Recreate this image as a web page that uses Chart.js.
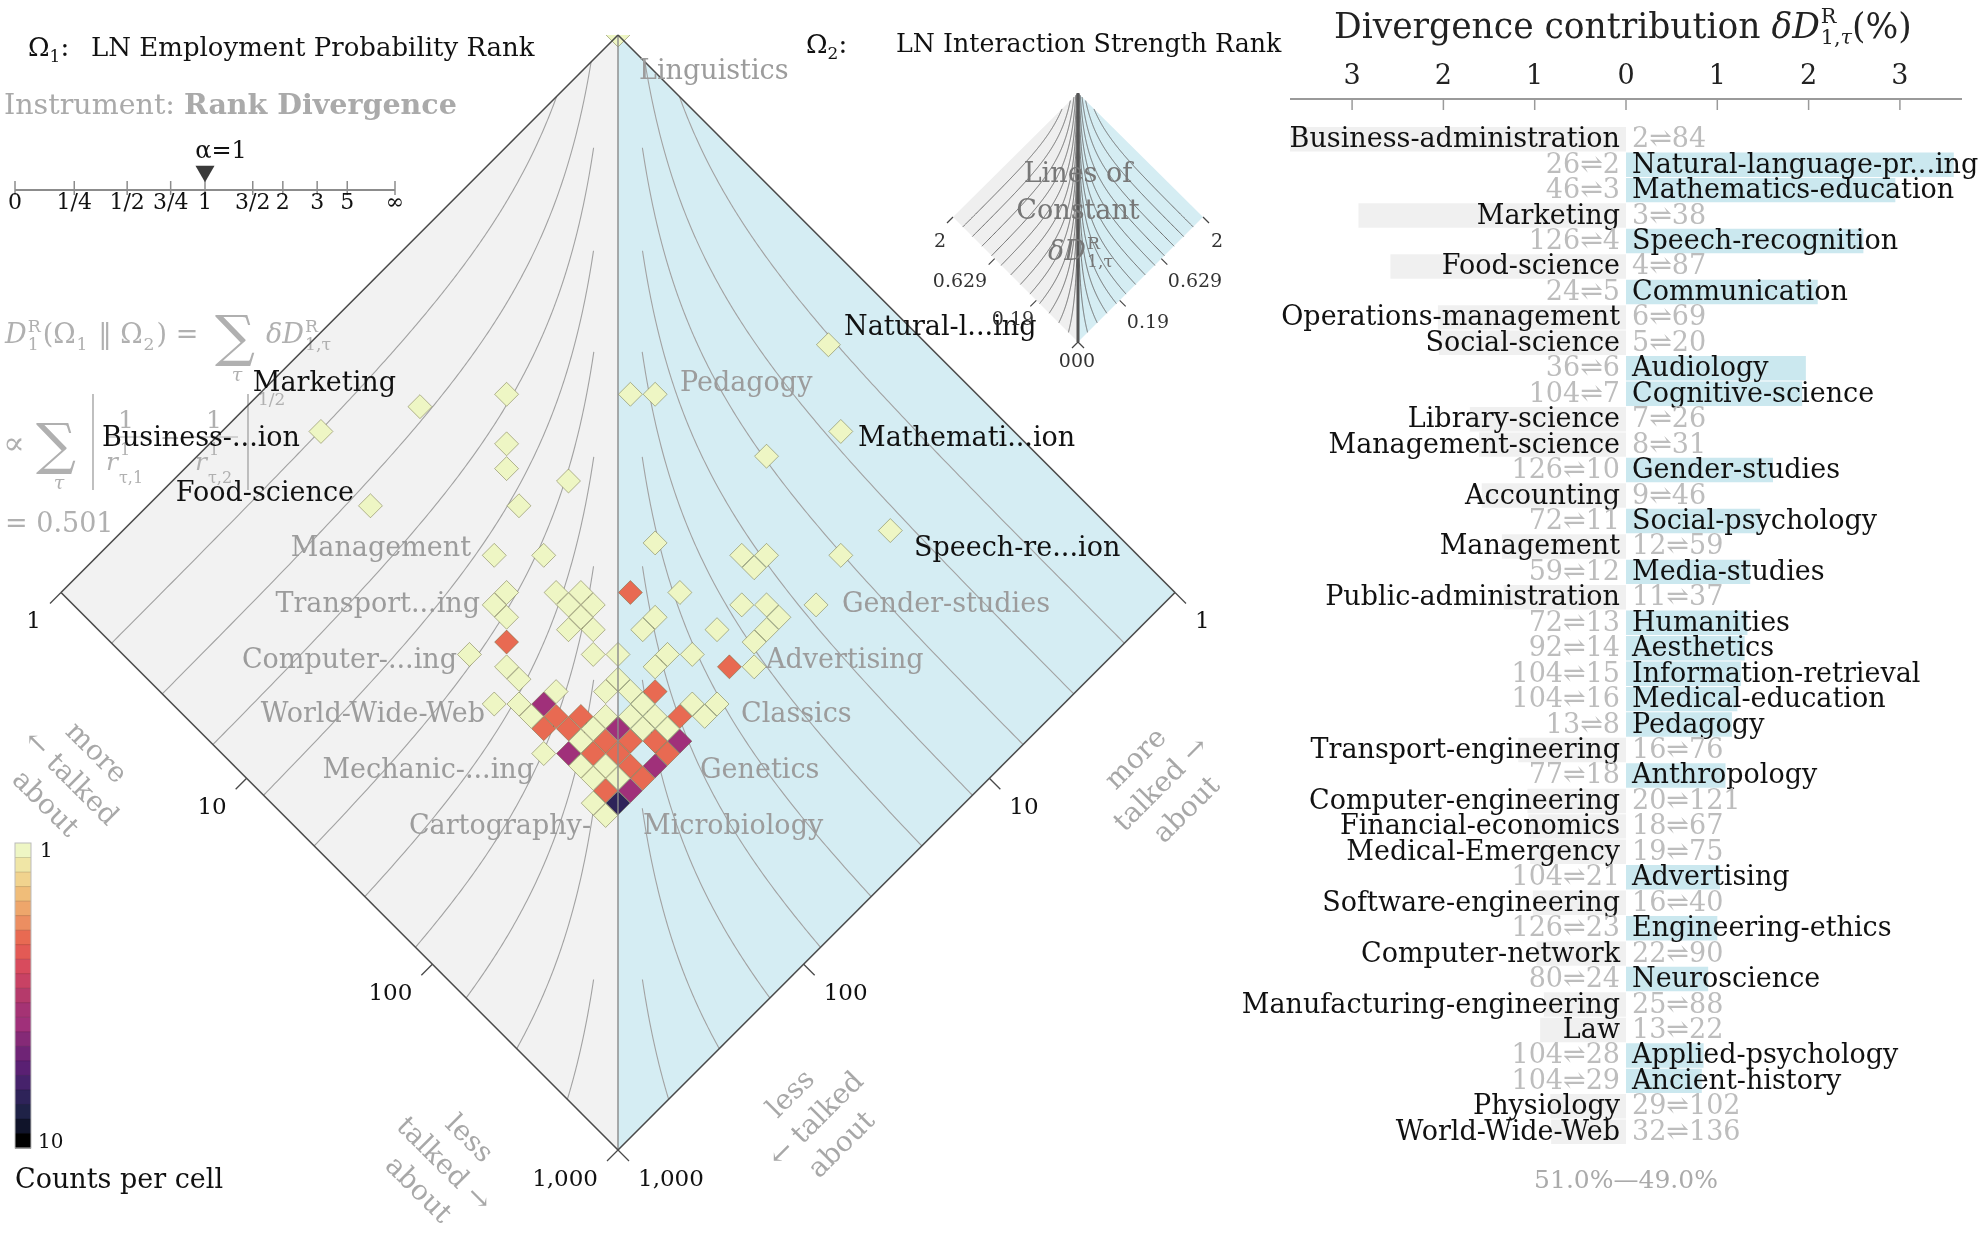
<!DOCTYPE html>
<html><head><meta charset="utf-8">
<script src="https://cdn.jsdelivr.net/npm/chart.js@4.4.1/dist/chart.umd.min.js"></script>
<style>
html,body{margin:0;padding:0;background:#fff;}
body{width:1985px;height:1236px;position:relative;overflow:hidden;font-family:"DejaVu Serif","DejaVu Sans",serif;}
canvas{position:absolute;}
.t{position:absolute;white-space:nowrap;line-height:1;}
.ss{display:inline-block;vertical-align:-0.3em;font-size:0.6em;line-height:1.0;text-align:left;margin-left:1px;}
.ss span{display:block;}
</style></head><body>
<canvas id="main" width="1985" height="1236" style="left:0;top:0;width:1985px;height:1236px;z-index:1"></canvas>
<canvas id="alpha" width="420" height="80" style="left:0;top:140px;width:420px;height:80px;z-index:2"></canvas>
<canvas id="bars" width="835" height="1236" style="left:1150px;top:0;width:835px;height:1236px;z-index:3"></canvas>

<div class="t" style="left:28px;top:34px;font-size:26px;color:#111;z-index:5">Ω<span style="font-size:17px;vertical-align:-6px">1</span>:</div>
<div class="t" style="left:91px;top:34px;font-size:26px;color:#111;z-index:5">LN Employment Probability Rank</div>
<div class="t" style="left:806px;top:31px;font-size:26px;color:#111;z-index:5">Ω<span style="font-size:17px;vertical-align:-6px">2</span>:</div>
<div class="t" style="left:896px;top:31px;font-size:25.3px;color:#111;z-index:5">LN Interaction Strength Rank</div>
<div class="t" style="left:4px;top:90px;font-size:28.5px;color:#aaa;z-index:5">Instrument: <b>Rank Divergence</b></div>
<div class="t" style="left:1334px;top:6px;font-size:34.5px;color:#222;z-index:5">Divergence contribution <i>δD</i><span class="ss"><span>R</span><span>1,<i>τ</i></span></span>(%)</div>

<script>
const FONT = '"DejaVu Serif","DejaVu Sans",serif';

// ---------------- DATA ----------------
// Right panel: top divergence contributors
const barLabels = ['Business-administration','Natural-language-pr...ing','Mathematics-education','Marketing','Speech-recognition','Food-science','Communication','Operations-management','Social-science','Audiology','Cognitive-science','Library-science','Management-science','Gender-studies','Accounting','Social-psychology','Management','Media-studies','Public-administration','Humanities','Aesthetics','Information-retrieval','Medical-education','Pedagogy','Transport-engineering','Anthropology','Computer-engineering','Financial-economics','Medical-Emergency','Advertising','Software-engineering','Engineering-ethics','Computer-network','Neuroscience','Manufacturing-engineering','Law','Applied-psychology','Ancient-history','Physiology','World-Wide-Web'];
const rankOmega1 = [2,26,46,3,126,4,24,6,5,36,104,7,8,126,9,72,12,59,11,72,92,104,104,13,16,77,20,18,19,104,16,126,22,80,25,13,104,104,29,32];
const rankOmega2 = [84,2,3,38,4,87,5,69,20,6,7,26,31,10,46,11,59,12,37,13,14,15,16,8,76,18,121,67,75,21,40,23,90,24,88,22,28,29,102,136];
// signed contribution (%): negative = Omega1 side (left), positive = Omega2 side (right)
const contribution = [-3.70,3.59,2.95,-2.93,2.60,-2.58,2.10,-2.06,-2.05,1.97,1.93,-1.71,-1.61,1.61,-1.58,1.47,-1.36,1.36,-1.34,1.33,1.30,1.26,1.22,1.16,-1.18,1.09,-1.08,-1.07,-1.05,1.03,-1.02,1.00,-0.98,0.90,-0.90,-0.94,0.85,0.83,-0.83,-0.82];
const barTickValues = [-3,-2,-1,0,1,2,3];
const balanceText = '51.0%—49.0%';

// Heatmap cells: log-rank bin index in Omega1, in Omega2, and count per cell
const cellBinOmega1 = [0,21,7,10,15,16,4,25,12,23,13,16,9,15,31,22,16,18,26,27,30,27,23,18,20,21,25,28,29,31,18,21,22,19,25,25,28,30,30,30,22,23,22,20,19,24,25,27,27,28,30,31,21,22,26,26,27,28,28,24,24,23,22,30,31,31,24,25,26,27,28,29,30,25,26,27,28,29,30,27,28,29,30,31,26,27,28,29,31,28,29,30,31,29,30,31,30,31,31,30,31];
const cellBinOmega2 = [0,4,23,19,14,13,28,7,21,11,22,20,29,23,9,19,26,24,16,15,12,16,22,27,25,24,20,18,17,15,28,25,24,28,22,23,20,17,18,19,26,25,25,29,31,26,25,23,24,22,21,20,30,30,26,27,26,26,25,29,30,31,32,24,23,24,31,30,29,28,27,26,25,31,30,29,28,27,26,30,29,28,27,26,32,31,30,29,27,31,30,29,28,31,30,29,31,30,31,32,32];
const cellCount     = [1,1,1,1,1,1,1,1,1,1,1,1,1,1,1,1,1,1,1,1,1,1,2,1,1,1,1,1,1,1,1,1,1,1,1,1,1,1,1,1,1,1,1,2,1,1,1,1,1,1,2,1,1,1,1,1,1,1,2,1,4,1,1,1,1,1,1,2,2,1,1,1,2,2,2,1,4,1,1,1,2,2,2,4,1,4,2,2,2,1,1,2,4,1,1,2,2,4,7,1,1];

const rankTicks = [1,10,100,1000];
const rankTickLabels = ['1','10','100','1,000'];
const alphaTickValues = [0,0.25,0.5,0.75,1,1.5,2,3,5,Infinity];
const alphaTickLabels = ['0','1/4','1/2','3/4','1','3/2','2','3','5','∞'];
const alphaSelected = 1;
const insetTickLabels = ['2','0.629','0.19','0'];

// ---------------- GEOMETRY / STYLE CONSTANTS ----------------
const BIN = 1/15;     // width of a heat-map cell in decades of rank
const LOGMAX = 3;     // log10(1000): diamond spans ranks 1..1000
const countStops = ['#eef6c4','#f0e6a6','#f1d38e','#f0bd79','#eea66b','#ec8e61','#e86a52','#e35a55','#d84b5d','#c84264','#b53a6b','#a53374','#a0307a','#852a77','#6f2476','#5a2073','#46226b','#2e2359','#1f2247','#10142a','#000000'];
function cmap(c){ const t=Math.min(1,Math.max(0,Math.log10(c))); return countStops[Math.round(t*(countStops.length-1))]; }

function poly(ctx, pts, fill){ ctx.beginPath(); ctx.moveTo(pts[0][0],pts[0][1]); for(let i=1;i<pts.length;i++) ctx.lineTo(pts[i][0],pts[i][1]); ctx.closePath(); ctx.fillStyle=fill; ctx.fill(); }
function seg(ctx,a,b){ ctx.beginPath(); ctx.moveTo(a[0],a[1]); ctx.lineTo(b[0],b[1]); ctx.stroke(); }

// contour curves of constant |1/r1 - 1/r2| (left half, value space x=u-v, y=u+v)
function contourPaths(nDiv, minGap){
  const paths=[];
  for(let k=1;k<nDiv;k++){
    const e=Math.pow(10,LOGMAX*k/nDiv), c=1/e-Math.pow(10,-LOGMAX), pts=[], N=260;
    for(let s=0;s<=N;s++){
      const f=1-Math.pow(1-s/N,2);
      const lr1=Math.log10(e)*f;
      const inv=1/Math.pow(10,lr1)-c;
      let lr2 = inv>0 ? -Math.log10(inv) : LOGMAX;
      if(lr2>LOGMAX) lr2=LOGMAX;
      if(lr2-lr1 < minGap) continue;
      pts.push([lr1-lr2, lr1+lr2]);
    }
    if(pts.length>1) paths.push(pts);
  }
  return paths;
}

function rich(ctx, x, y, parts, size){
  let cx=x;
  for(const p of parts){
    if(typeof p==='string'){ ctx.font=`${size}px ${FONT}`; ctx.fillText(p,cx,y); cx+=ctx.measureText(p).width; continue; }
    if(p.sup!==undefined||p.sub!==undefined){
      const ss=size*0.64; let w=0;
      if(p.sup){ ctx.font=`${ss}px ${FONT}`; ctx.fillText(p.sup,cx+1,y-size*0.42); w=Math.max(w,ctx.measureText(p.sup).width); }
      if(p.sub){ ctx.font=`${ss}px ${FONT}`; ctx.fillText(p.sub,cx+1,y+size*0.26); w=Math.max(w,ctx.measureText(p.sub).width); }
      cx+=w+3; continue;
    }
    const sz=size*(p.s||1);
    ctx.font=`${p.it?'italic ':''}${sz}px ${FONT}`;
    ctx.fillText(p.t,cx,y+(p.dy||0)); cx+=ctx.measureText(p.t).width;
  }
  return cx;
}

function drawFormula(ctx){
  ctx.save(); ctx.fillStyle='#b0b0b0'; ctx.strokeStyle='#b0b0b0'; ctx.textBaseline='alphabetic'; ctx.textAlign='left';
  rich(ctx,5,343,[{t:'D',it:1},{sup:'R',sub:'1'},'(Ω',{sub:'1'},' ‖ Ω',{sub:'2'},') ='],27);
  ctx.font=`56px ${FONT}`; ctx.fillText('∑',215,355);
  ctx.font=`italic 19px ${FONT}`; ctx.textAlign='center'; ctx.fillText('τ',237,381); ctx.textAlign='left';
  rich(ctx,266,343,[{t:'δD',it:1},{sup:'R',sub:'1,τ'}],27);
  // line 2
  ctx.font=`32px ${FONT}`; ctx.fillText('∝',3,454);
  ctx.font=`56px ${FONT}`; ctx.fillText('∑',36,463);
  ctx.font=`italic 19px ${FONT}`; ctx.textAlign='center'; ctx.fillText('τ',59,489); ctx.textAlign='left';
  ctx.lineWidth=1.6; seg(ctx,[93,394],[93,490]); seg(ctx,[248,394],[248,490]);
  ctx.lineWidth=1.2; seg(ctx,[106,437],[150,437]); seg(ctx,[193,437],[238,437]);
  ctx.font=`25px ${FONT}`; ctx.fillText('1',118,428); ctx.fillText('1',206,428);
  ctx.fillText('−',160,446);
  ctx.font=`italic 25px ${FONT}`; ctx.fillText('r',106,470); ctx.fillText('r',195,470);
  ctx.font=`16px ${FONT}`; ctx.fillText('1',120,455); ctx.fillText('1',209,455);
  ctx.fillText('τ,1',119,483); ctx.fillText('τ,2',208,483);
  ctx.font=`17px ${FONT}`; ctx.fillText('1/2',258,405);
  // line 3
  ctx.font=`27px ${FONT}`; ctx.fillText('= 0.501',5,532);
  ctx.restore();
}

function rotText(ctx, lines, cx, cy, deg, size, lh, color){
  ctx.save(); ctx.translate(cx,cy); ctx.rotate(deg*Math.PI/180);
  ctx.font=`${size}px ${FONT}`; ctx.fillStyle=color; ctx.textAlign='center'; ctx.textBaseline='middle';
  lines.forEach((l,i)=>ctx.fillText(l,0,(i-(lines.length-1)/2)*lh));
  ctx.restore();
}

function drawInset(ctx){
  const T=[1078,93], L=[953,217], R=[1203,217], B=[1078,342];
  const M=(xv,yv)=>[1078+xv*125/LOGMAX, 93+yv*124.5/LOGMAX];
  ctx.save();
  poly(ctx,[T,L,B],'#efefef'); poly(ctx,[T,R,B],'#d5edf3');
  ctx.strokeStyle='#6a6a6a'; ctx.lineWidth=1;
  for(const pts of contourPaths(13,0)){
    for(const sgn of [1,-1]){
      ctx.beginPath(); pts.forEach((p,i)=>{const q=M(sgn*p[0],p[1]); i?ctx.lineTo(q[0],q[1]):ctx.moveTo(q[0],q[1]);}); ctx.stroke();
    }
  }
  ctx.strokeStyle='#555'; ctx.lineWidth=3; seg(ctx,T,B);
  ctx.strokeStyle='#444'; ctx.lineWidth=1.2;
  for(let i=0;i<4;i++){
    const f=i/3;
    const pl=[L[0]+(B[0]-L[0])*f, L[1]+(B[1]-L[1])*f], pr=[R[0]+(B[0]-R[0])*f, R[1]+(B[1]-R[1])*f];
    seg(ctx,pl,[pl[0]-6,pl[1]+6]); seg(ctx,pr,[pr[0]+6,pr[1]+6]);
  }
  ctx.fillStyle='#333'; ctx.font=`19px ${FONT}`; ctx.textAlign='center'; ctx.textBaseline='middle';
  const leftPos=[[940,242],[960,282],[1013,320]], rightPos=[[1217,242],[1195,282],[1148,323]];
  for(let i=0;i<3;i++){ ctx.fillText(insetTickLabels[i],leftPos[i][0],leftPos[i][1]); ctx.fillText(insetTickLabels[i],rightPos[i][0],rightPos[i][1]); }
  ctx.fillText(insetTickLabels[3]+insetTickLabels[3]+insetTickLabels[3],1077,362);
  ctx.fillStyle='#777'; ctx.font=`27px ${FONT}`;
  ctx.fillText('Lines of',1078,175); ctx.fillText('Constant',1078,212);
  ctx.textAlign='left'; ctx.textBaseline='alphabetic';
  rich(ctx,1048,260,[{t:'δD',it:1},{sup:'R',sub:'1,τ'}],27);
  ctx.restore();
}

function drawColorbar(ctx){
  const x=15,w=16,top=843,bot=1148,n=countStops.length,h=(bot-top)/n;
  ctx.save();
  countStops.forEach((c,i)=>{ ctx.fillStyle=c; ctx.fillRect(x,top+i*h,w,h+0.5); });
  ctx.strokeStyle='rgba(0,0,0,0.15)'; ctx.lineWidth=1;
  for(let i=1;i<n;i++) seg(ctx,[x,top+i*h],[x+w,top+i*h]);
  ctx.strokeStyle='#bbb'; ctx.strokeRect(x,top,w,bot-top);
  ctx.fillStyle='#111'; ctx.font=`20px ${FONT}`; ctx.textBaseline='middle'; ctx.textAlign='left';
  ctx.fillText('1',40,852); ctx.fillText('10',38,1143);
  ctx.font=`27px ${FONT}`; ctx.fillText('Counts per cell',15,1181);
  ctx.restore();
}

const diamondPlugin = {
  id:'diamond',
  beforeDatasetsDraw(chart){
    const {ctx, scales:{x:X,y:Y}} = chart;
    const P=(a,b)=>[X.getPixelForValue(a),Y.getPixelForValue(b)];
    const T=P(0,0), L=P(-LOGMAX,LOGMAX), R=P(LOGMAX,LOGMAX), B=P(0,2*LOGMAX);
    ctx.save();
    poly(ctx,[T,L,B],'#f2f2f2'); poly(ctx,[T,R,B],'#d5edf3');
    ctx.strokeStyle='#a2a2a2'; ctx.lineWidth=1.1;
    for(const pts of contourPaths(11,0.13)){
      for(const sgn of [1,-1]){
        ctx.beginPath(); pts.forEach((p,i)=>{const q=P(sgn*p[0],p[1]); i?ctx.lineTo(q[0],q[1]):ctx.moveTo(q[0],q[1]);}); ctx.stroke();
      }
    }
    ctx.restore();
    drawFormula(ctx);
  },
  afterDatasetsDraw(chart){
    const {ctx, scales:{x:X,y:Y}} = chart;
    const P=(a,b)=>[X.getPixelForValue(a),Y.getPixelForValue(b)];
    const T=P(0,0), L=P(-LOGMAX,LOGMAX), R=P(LOGMAX,LOGMAX), B=P(0,2*LOGMAX);
    ctx.save();
    ctx.strokeStyle='#8a8a8a'; ctx.lineWidth=1.4; seg(ctx,T,B);
    ctx.strokeStyle='#4a4a4a'; ctx.lineWidth=1.6;
    seg(ctx,T,L); seg(ctx,L,B); seg(ctx,B,R); seg(ctx,R,T);
    ctx.font=`23px ${FONT}`; ctx.fillStyle='#111'; ctx.textBaseline='middle';
    rankTicks.forEach((t,i)=>{
      const u=Math.log10(t);
      const pl=P(u-LOGMAX,u+LOGMAX), pr=P(LOGMAX-u,LOGMAX+u);
      ctx.lineWidth=1.3;
      seg(ctx,pl,[pl[0]-11,pl[1]+11]); seg(ctx,pr,[pr[0]+11,pr[1]+11]);
      ctx.textAlign='right'; ctx.fillText(rankTickLabels[i],pl[0]-20,pl[1]+30);
      ctx.textAlign='left'; ctx.fillText(rankTickLabels[i],pr[0]+20,pr[1]+30);
    });
    // word labels
    ctx.font=`27px ${FONT}`; ctx.textBaseline='middle';
    const grayL=[['Management',471,549],['Transport...ing',480,605],['Computer-...ing',457,661],['World-Wide-Web',485,715],['Mechanic-...ing',534,771],['Cartography-',591,827]];
    const grayR=[['Linguistics',639,72],['Pedagogy',680,384],['Gender-studies',842,605],['Advertising',766,661],['Classics',741,715],['Genetics',700,771],['Microbiology',643,827]];
    const blackL=[['Marketing',396,384],['Business-...ion',300,439],['Food-science',354,494]];
    const blackR=[['Natural-l...ing',844,328],['Mathemati...ion',858,439],['Speech-re...ion',914,549]];
    ctx.fillStyle='#9c9c9c';
    ctx.textAlign='right'; grayL.forEach(l=>ctx.fillText(l[0],l[1],l[2]));
    ctx.textAlign='left'; grayR.forEach(l=>ctx.fillText(l[0],l[1],l[2]));
    ctx.fillStyle='#111';
    ctx.textAlign='right'; blackL.forEach(l=>ctx.fillText(l[0],l[1],l[2]));
    ctx.textAlign='left'; blackR.forEach(l=>ctx.fillText(l[0],l[1],l[2]));
    ctx.restore();
    const g='#a8a8a8';
    rotText(ctx,['more','← talked','about'],70,779,45,28,36,g);
    rotText(ctx,['more','talked →','about'],1162,785,-45,28,36,g);
    rotText(ctx,['less','talked →','about'],443,1165,45,28,36,g);
    rotText(ctx,['less','← talked','about'],817,1120,-45,28,36,g);
    drawInset(ctx);
    drawColorbar(ctx);
  }
};

const cellData = cellBinOmega1.map((b1,k)=>({x:(b1-cellBinOmega2[k])*BIN, y:(b1+cellBinOmega2[k])*BIN, c:cellCount[k]}));

new Chart(document.getElementById('main'),{
  type:'scatter',
  data:{datasets:[{data:cellData, pointStyle:'rectRot',
    pointRadius:ctx=>{const s=ctx.chart.scales.x; return s.getPixelForValue(BIN)-s.getPixelForValue(0)-0.4;},
    backgroundColor:ctx=>cmap(ctx.raw?ctx.raw.c:1),
    borderColor:'rgba(95,95,45,0.45)', borderWidth:1}]},
  options:{responsive:false, animation:false, devicePixelRatio:1, events:[],
    layout:{padding:{left:61,right:810,top:35,bottom:86}},
    scales:{x:{type:'linear',min:-LOGMAX,max:LOGMAX,display:false}, y:{type:'linear',min:0,max:2*LOGMAX,reverse:true,display:false}},
    plugins:{legend:{display:false},tooltip:{enabled:false}}},
  plugins:[diamondPlugin]
});

// alpha selector
const alphaPos = a => a===Infinity ? 1 : (2/Math.PI)*Math.atan(a);
const alphaPlugin = {id:'alphaAxis',
  beforeDatasetsDraw(chart){
    const {ctx, scales:{x:X}} = chart; const y0=50;
    ctx.save(); ctx.strokeStyle='#8c8c8c'; ctx.lineWidth=2;
    seg(ctx,[X.getPixelForValue(0),y0],[X.getPixelForValue(1),y0]);
    ctx.fillStyle='#111'; ctx.font=`22px ${FONT}`; ctx.textAlign='center'; ctx.textBaseline='middle';
    alphaTickValues.forEach((a,i)=>{ const px=X.getPixelForValue(alphaPos(a)); ctx.lineWidth=1.5; seg(ctx,[px,y0-9],[px,y0+5]); ctx.fillText(alphaTickLabels[i],px,y0+13); });
    ctx.font=`24px ${FONT}`; ctx.fillText('α='+alphaSelected, X.getPixelForValue(alphaPos(alphaSelected))+16, 12);
    ctx.restore();
  }};
new Chart(document.getElementById('alpha'),{
  type:'scatter',
  data:{datasets:[{data:[{x:alphaPos(alphaSelected),y:28}], pointStyle:'triangle', rotation:180, pointRadius:11, backgroundColor:'#3a3a3a', borderColor:'#3a3a3a', borderWidth:0}]},
  options:{responsive:false, animation:false, devicePixelRatio:1, events:[],
    layout:{padding:{left:15,right:25,top:0,bottom:0}},
    scales:{x:{type:'linear',min:0,max:1,display:false}, y:{type:'linear',min:0,max:80,reverse:true,display:false}},
    plugins:{legend:{display:false},tooltip:{enabled:false}}},
  plugins:[alphaPlugin]
});

// divergence contribution bars
const barTextPlugin = {id:'barText',
  afterDatasetsDraw(chart){
    const {ctx, chartArea:ca, scales:{x:X,y:Y}} = chart;
    const x0=X.getPixelForValue(0);
    ctx.save();
    const ya=ca.top-27.5;
    ctx.strokeStyle='#9a9a9a'; ctx.lineWidth=2; seg(ctx,[ca.left,ya],[ca.right,ya]);
    ctx.lineWidth=1.5; barTickValues.forEach(v=>{const px=X.getPixelForValue(v); seg(ctx,[px,ya],[px,ya+11]);});
    ctx.font=`27px ${FONT}`; ctx.textBaseline='middle';
    barLabels.forEach((name,i)=>{
      const y=Y.getPixelForValue(i)+1;
      const pair=rankOmega1[i]+'⇌'+rankOmega2[i];
      if(contribution[i]<0){
        ctx.fillStyle='#111'; ctx.textAlign='right'; ctx.fillText(name,x0-6,y);
        ctx.fillStyle='#bdbdbd'; ctx.textAlign='left'; ctx.fillText(pair,x0+6,y);
      } else {
        ctx.fillStyle='#bdbdbd'; ctx.textAlign='right'; ctx.fillText(pair,x0-6,y);
        ctx.fillStyle='#111'; ctx.textAlign='left'; ctx.fillText(name,x0+6,y);
      }
    });
    ctx.fillStyle='#aaa'; ctx.textAlign='center'; ctx.font=`25px ${FONT}`;
    ctx.fillText(balanceText,x0,ca.bottom+37);
    ctx.restore();
  }};
new Chart(document.getElementById('bars'),{
  type:'bar',
  data:{labels:barLabels, datasets:[{data:contribution, backgroundColor:contribution.map(v=>v<0?'#f0f0f0':'#cbe8ef'), borderWidth:0, barPercentage:0.96, categoryPercentage:1}]},
  options:{indexAxis:'y', responsive:false, animation:false, devicePixelRatio:1, events:[],
    layout:{padding:{left:140,right:23,top:42.5,bottom:91.5}},
    scales:{
      x:{type:'linear', position:'top', min:-3.68, max:3.68,
        afterBuildTicks:s=>{ s.ticks=barTickValues.map(v=>({value:v})); },
        afterFit:s=>{ s.height=84; },
        grid:{display:false, drawTicks:false}, border:{display:false},
        ticks:{padding:33, color:'#222', font:{family:FONT,size:27}, callback:v=>String(Math.abs(v))}},
      y:{display:false}
    },
    plugins:{legend:{display:false},tooltip:{enabled:false}}},
  plugins:[barTextPlugin]
});
</script>
</body></html>
